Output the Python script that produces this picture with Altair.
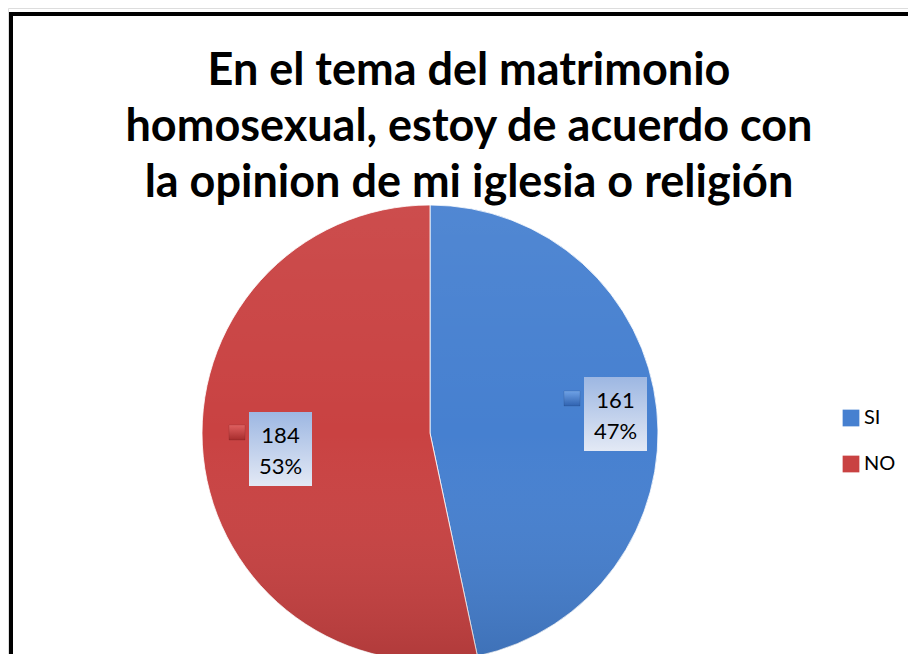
import math
import altair as alt
import pandas as pd

# ---- data ----
categories = ["SI", "NO"]
values = [161, 184]
colors = ["#4680d0", "#c94242"]
title_lines = [
    "En el tema del matrimonio",
    "homosexual, estoy de acuerdo con",
    "la opinion de mi iglesia o religión",
]

total = sum(values)
df = pd.DataFrame({
    "cat": categories,
    "value": values,
    "order": list(range(len(categories))),
})
df["pct"] = [f"{round(v * 100 / total)}%" for v in values]

W, H = 900, 646
CX, CY, R = 422, 425, 228
FONT = "Lato"

base = alt.Chart(df)

pie = base.mark_arc(outerRadius=R, stroke="#ffffff", strokeWidth=0.8).encode(
    theta=alt.Theta("value:Q", stack=True),
    order=alt.Order("order:Q"),
    color=alt.Color(
        "cat:N",
        scale=alt.Scale(domain=categories, range=colors),
        legend=alt.Legend(
            title=None, orient="none", legendX=833, legendY=400,
            symbolType="square", symbolSize=280, symbolStrokeWidth=0,
            symbolOpacity=1, labelFontSize=20, labelFont=FONT,
            labelColor="#000000", rowPadding=26, labelOffset=3,
        ),
    ),
    x=alt.value(CX), y=alt.value(CY),
)

shade = alt.Chart(pd.DataFrame({"a": [0]})).mark_arc(
    outerRadius=R, theta=0, theta2=2 * math.pi,
    fill=alt.LinearGradient(
        gradient="linear", x1=0, y1=0, x2=0, y2=1,
        stops=[alt.GradientStop(offset=0, color="rgba(255,255,255,0.06)"),
               alt.GradientStop(offset=0.5, color="rgba(255,255,255,0.0)"),
               alt.GradientStop(offset=1, color="rgba(0,0,0,0.12)")],
    ),
).encode(x=alt.value(CX), y=alt.value(CY))

box_fill = alt.LinearGradient(
    gradient="linear", x1=0, y1=0, x2=0, y2=1,
    stops=[alt.GradientStop(offset=0, color="#9db7e2"),
           alt.GradientStop(offset=1, color="#e3e9f5")],
)

def label_layers(cat, x0, y0, w, h, kx, ky, ktop_color, kbot_color):
    d = base.transform_filter(alt.datum.cat == cat)
    box = d.mark_rect(fill=box_fill).encode(
        x=alt.value(x0), x2=alt.value(x0 + w), y=alt.value(y0), y2=alt.value(y0 + h))
    key = d.mark_rect(
        fill=alt.LinearGradient(
            gradient="linear", x1=0, y1=0, x2=0, y2=1,
            stops=[alt.GradientStop(offset=0, color=ktop_color),
                   alt.GradientStop(offset=1, color=kbot_color)]),
        stroke="#00000033", strokeWidth=0.5,
    ).encode(x=alt.value(kx), x2=alt.value(kx + 16), y=alt.value(ky), y2=alt.value(ky + 15))
    t1 = d.mark_text(fontSize=22, font=FONT, color="#000000", align="center", baseline="middle").encode(
        text="value:Q", x=alt.value(x0 + w / 2), y=alt.value(y0 + h * 0.33))
    t2 = d.mark_text(fontSize=22, font=FONT, color="#000000", align="center", baseline="middle").encode(
        text="pct:N", x=alt.value(x0 + w / 2), y=alt.value(y0 + h * 0.74))
    return [box, key, t1, t2]

si_layers = label_layers("SI", 576, 369, 63, 74, 556, 383, "#6fa2e6", "#2f62b0")
no_layers = label_layers("NO", 241, 404, 63, 74, 221, 417, "#e06060", "#a62c2c")

title = alt.Chart(pd.DataFrame({"a": [0]})).mark_text(
    fontSize=45, font=FONT, fontWeight="bold", color="#000000",
    align="center", baseline="alphabetic", lineHeight=56,
).encode(text=alt.value(title_lines), x=alt.value(461), y=alt.value(77))

border = alt.Chart(pd.DataFrame({"a": [0]})).mark_rect(
    fill="transparent", stroke="#000000", strokeWidth=4,
).encode(x=alt.value(3), x2=alt.value(1100), y=alt.value(6), y2=alt.value(1100))

chart = alt.layer(
    border, pie, shade, *si_layers, *no_layers, title,
).properties(
    width=W, height=H, padding=0,
    autosize=alt.AutoSizeParams(type="none"),
).configure_view(stroke=None).configure(background="#ffffff")

chart.save("out.html", embed_options={"renderer": "svg", "actions": False})
